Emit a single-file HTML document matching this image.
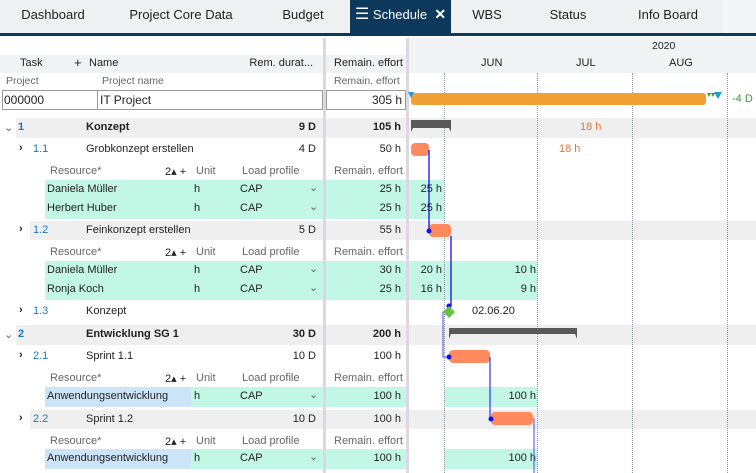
<!DOCTYPE html>
<html><head><meta charset="utf-8"><style>
*{margin:0;padding:0;box-sizing:border-box}
body{width:756px;height:473px;overflow:hidden;background:#fff;font-family:"Liberation Sans",sans-serif;font-size:11px;color:#222;position:relative}
.a{position:absolute;white-space:nowrap}
.r{text-align:right}
.g{color:#666}
.b{font-weight:bold}
.blue{color:#1a78c2}
.tab{position:absolute;top:0;height:34px;line-height:29px;font-size:13px;color:#222;text-align:center}
.bg{position:absolute}
</style></head><body>
<div class="bg" style="left:0;top:0;width:756px;height:34px;background:#eef0f2"></div>
<div class="bg" style="left:0;top:33px;width:756px;height:3px;background:#0d3a5c"></div>
<div class="bg" style="left:723px;top:0;width:33px;height:33px;background:#f4f5f6"></div>
<div class="tab" style="left:0;width:106px">Dashboard</div>
<div class="tab" style="left:106px;width:150px">Project Core Data</div>
<div class="tab" style="left:256px;width:94px">Budget</div>
<div class="bg" style="left:350px;top:0;width:101px;height:34px;background:#0d3a5c"></div>
<div class="tab" style="left:350px;width:101px;color:#fff"><span style="font-size:16px">☰</span> Schedule &nbsp;<b style="font-size:14px">✕</b></div>
<div class="tab" style="left:451px;width:72px">WBS</div>
<div class="tab" style="left:523px;width:90px">Status</div>
<div class="tab" style="left:613px;width:110px">Info Board</div>

<div class="bg" style="left:0;top:55px;width:323px;height:18px;background:#f1f2f4"></div>
<div class="bg" style="left:326px;top:55px;width:80px;height:18px;background:#f1f2f4"></div>
<div class="bg" style="left:409px;top:37px;width:347px;height:36px;background:#f2f3f5"></div>

<div class="bg" style="left:16px;top:118px;width:740px;height:20px;background:#efefef"></div>
<div class="bg" style="left:30px;top:221px;width:726px;height:19px;background:#efefef"></div>
<div class="bg" style="left:16px;top:325px;width:740px;height:20px;background:#efefef"></div>
<div class="bg" style="left:30px;top:410px;width:726px;height:19px;background:#efefef"></div>
<div class="bg" style="left:45px;top:180px;width:361px;height:39px;background:#c2f7e6"></div>
<div class="bg" style="left:409px;top:180px;width:35px;height:39px;background:#c2f7e6"></div>
<div class="bg" style="left:45px;top:261px;width:361px;height:39px;background:#c2f7e6"></div>
<div class="bg" style="left:409px;top:261px;width:128px;height:39px;background:#c2f7e6"></div>
<div class="bg" style="left:45px;top:387px;width:361px;height:20px;background:#c2f7e6"></div>
<div class="bg" style="left:45px;top:387px;width:146px;height:20px;background:#cce4f8"></div>
<div class="bg" style="left:445px;top:387px;width:92px;height:20px;background:#c2f7e6"></div>
<div class="bg" style="left:45px;top:449px;width:361px;height:20px;background:#c2f7e6"></div>
<div class="bg" style="left:45px;top:449px;width:146px;height:20px;background:#cce4f8"></div>
<div class="bg" style="left:445px;top:449px;width:92px;height:20px;background:#c2f7e6"></div>

<div class="bg" style="left:323px;top:38px;width:3px;height:435px;background:#ddd8e0"></div>
<div class="bg" style="left:406px;top:38px;width:3px;height:435px;background:#ddd8e0"></div>
<div class="bg" style="left:444px;top:73px;height:400px;border-left:1px dotted #8a95a8"></div>
<div class="bg" style="left:537px;top:73px;height:400px;border-left:1px dotted #8a95a8"></div>
<div class="bg" style="left:632px;top:73px;height:400px;border-left:1px dotted #8a95a8"></div>
<div class="bg" style="left:727px;top:73px;height:400px;border-left:1px dotted #8a95a8"></div>

<div class="a" style="left:20px;top:57px">Task</div>
<div class="a" style="left:74px;top:56px;font-size:13px;line-height:13px">+</div>
<div class="a" style="left:89px;top:57px">Name</div>
<div class="a r" style="left:220px;width:93px;top:57px">Rem. durat...</div>
<div class="a" style="left:334px;top:57px">Remain. effort</div>
<div class="a" style="left:652px;top:40px;font-size:10.5px">2020</div>
<div class="a" style="left:481px;top:57px">JUN</div>
<div class="a" style="left:576px;top:57px">JUL</div>
<div class="a" style="left:669px;top:57px">AUG</div>

<div class="a g" style="left:6px;top:75px;font-size:10.5px">Project</div>
<div class="a g" style="left:102px;top:75px;font-size:10.5px">Project name</div>
<div class="a g" style="left:334px;top:75px;font-size:10.5px">Remain. effort</div>
<div class="bg" style="left:2px;top:90px;width:96px;height:20px;border:1px solid #999"></div>
<div class="bg" style="left:97px;top:90px;width:226px;height:20px;border:1px solid #999"></div>
<div class="bg" style="left:326px;top:90px;width:80px;height:20px;border:1px solid #999"></div>
<div class="a" style="left:4px;top:93px;font-size:12px">000000</div>
<div class="a" style="left:100px;top:93px;font-size:12px">IT Project</div>
<div class="a r" style="left:330px;width:72px;top:93px;font-size:12px">305 h</div>

<div class="a g" style="left:4px;top:121px">⌄</div>
<div class="a blue b" style="left:18px;top:121px">1</div>
<div class="a b" style="left:86px;top:121px">Konzept</div>
<div class="a r b" style="left:250px;width:66px;top:121px">9 D</div>
<div class="a r b" style="left:330px;width:71px;top:121px">105 h</div>
<div class="a" style="left:19px;top:142px;font-weight:bold">›</div>
<div class="a blue" style="left:33px;top:143px">1.1</div>
<div class="a" style="left:86px;top:143px">Grobkonzept erstellen</div>
<div class="a r" style="left:250px;width:66px;top:143px">4 D</div>
<div class="a r" style="left:330px;width:71px;top:143px">50 h</div>
<div class="a g" style="left:50px;top:165px">Resource*</div><div class="a" style="left:165px;top:165px">2▴ +</div><div class="a g" style="left:196px;top:165px">Unit</div><div class="a g" style="left:242px;top:165px">Load profile</div><div class="a g" style="left:334px;top:165px">Remain. effort</div>
<div class="a" style="left:47px;top:183px">Daniela Müller</div><div class="a" style="left:194px;top:183px">h</div><div class="a" style="left:240px;top:183px">CAP</div><div class="a g" style="left:309px;top:181px">⌄</div><div class="a r" style="left:330px;width:71px;top:183px">25 h</div>
<div class="a" style="left:47px;top:202px">Herbert Huber</div><div class="a" style="left:194px;top:202px">h</div><div class="a" style="left:240px;top:202px">CAP</div><div class="a g" style="left:309px;top:200px">⌄</div><div class="a r" style="left:330px;width:71px;top:202px">25 h</div>
<div class="a r" style="left:410px;width:32px;top:183px">25 h</div>
<div class="a r" style="left:410px;width:32px;top:202px">25 h</div>
<div class="a" style="left:19px;top:223px;font-weight:bold">›</div>
<div class="a blue" style="left:33px;top:224px">1.2</div>
<div class="a" style="left:86px;top:224px">Feinkonzept erstellen</div>
<div class="a r" style="left:250px;width:66px;top:224px">5 D</div>
<div class="a r" style="left:330px;width:71px;top:224px">55 h</div>
<div class="a g" style="left:50px;top:246px">Resource*</div><div class="a" style="left:165px;top:246px">2▴ +</div><div class="a g" style="left:196px;top:246px">Unit</div><div class="a g" style="left:242px;top:246px">Load profile</div><div class="a g" style="left:334px;top:246px">Remain. effort</div>
<div class="a" style="left:47px;top:264px">Daniela Müller</div><div class="a" style="left:194px;top:264px">h</div><div class="a" style="left:240px;top:264px">CAP</div><div class="a g" style="left:309px;top:262px">⌄</div><div class="a r" style="left:330px;width:71px;top:264px">30 h</div>
<div class="a" style="left:47px;top:283px">Ronja Koch</div><div class="a" style="left:194px;top:283px">h</div><div class="a" style="left:240px;top:283px">CAP</div><div class="a g" style="left:309px;top:281px">⌄</div><div class="a r" style="left:330px;width:71px;top:283px">25 h</div>
<div class="a r" style="left:410px;width:32px;top:264px">20 h</div><div class="a r" style="left:490px;width:46px;top:264px">10 h</div>
<div class="a r" style="left:410px;width:32px;top:283px">16 h</div><div class="a r" style="left:490px;width:46px;top:283px">9 h</div>
<div class="a" style="left:19px;top:304px;font-weight:bold">›</div>
<div class="a blue" style="left:33px;top:305px">1.3</div>
<div class="a" style="left:86px;top:305px">Konzept</div>
<div class="a g" style="left:4px;top:328px">⌄</div>
<div class="a blue b" style="left:18px;top:328px">2</div>
<div class="a b" style="left:86px;top:328px">Entwicklung SG 1</div>
<div class="a r b" style="left:250px;width:66px;top:328px">30 D</div>
<div class="a r b" style="left:330px;width:71px;top:328px">200 h</div>
<div class="a" style="left:19px;top:349px;font-weight:bold">›</div>
<div class="a blue" style="left:33px;top:350px">2.1</div>
<div class="a" style="left:86px;top:350px">Sprint 1.1</div>
<div class="a r" style="left:250px;width:66px;top:350px">10 D</div>
<div class="a r" style="left:330px;width:71px;top:350px">100 h</div>
<div class="a g" style="left:50px;top:372px">Resource*</div><div class="a" style="left:165px;top:372px">2▴ +</div><div class="a g" style="left:196px;top:372px">Unit</div><div class="a g" style="left:242px;top:372px">Load profile</div><div class="a g" style="left:334px;top:372px">Remain. effort</div>
<div class="a" style="left:47px;top:390px">Anwendungsentwicklung</div><div class="a" style="left:194px;top:390px">h</div><div class="a" style="left:240px;top:390px">CAP</div><div class="a g" style="left:309px;top:388px">⌄</div><div class="a r" style="left:330px;width:71px;top:390px">100 h</div>
<div class="a r" style="left:480px;width:56px;top:390px">100 h</div>
<div class="a" style="left:19px;top:412px;font-weight:bold">›</div>
<div class="a blue" style="left:33px;top:413px">2.2</div>
<div class="a" style="left:86px;top:413px">Sprint 1.2</div>
<div class="a r" style="left:250px;width:66px;top:413px">10 D</div>
<div class="a r" style="left:330px;width:71px;top:413px">100 h</div>
<div class="a g" style="left:50px;top:435px">Resource*</div><div class="a" style="left:165px;top:435px">2▴ +</div><div class="a g" style="left:196px;top:435px">Unit</div><div class="a g" style="left:242px;top:435px">Load profile</div><div class="a g" style="left:334px;top:435px">Remain. effort</div>
<div class="a" style="left:47px;top:452px">Anwendungsentwicklung</div><div class="a" style="left:194px;top:452px">h</div><div class="a" style="left:240px;top:452px">CAP</div><div class="a g" style="left:309px;top:450px">⌄</div><div class="a r" style="left:330px;width:71px;top:452px">100 h</div>
<div class="a r" style="left:480px;width:56px;top:452px">100 h</div>

<svg class="a" style="left:0;top:0" width="756" height="473">
<rect x="411" y="93" width="295" height="12" rx="3" fill="#f0a035"/>
<polygon points="408,92 414,92 411,98" fill="#1e9ad6"/>
<polygon points="714,92 722,92 718,99" fill="#1e9ad6"/>
<polygon points="707,93 711,93 709,97" fill="#3a9a3a"/><polygon points="711,93 715,93 713,97" fill="#3a9a3a"/>
<path d="M411 120 H451 V132 L449 128 H413 L411 132 Z" fill="#595959"/>
<path d="M449 328 H577 V339 L575 334 H451 L449 339 Z" fill="#595959"/>
<rect x="411" y="143" width="18" height="13" rx="4" fill="#ff8a5e"/>
<rect x="429" y="224" width="22" height="13" rx="4" fill="#ff8a5e"/>
<rect x="449" y="350" width="41" height="13" rx="4" fill="#ff8a5e"/>
<rect x="491" y="412" width="42" height="13" rx="4" fill="#ff8a5e"/>
<path d="M429 150 V231" stroke="#1010ee" stroke-width="1.3" fill="none"/>
<circle cx="429" cy="231" r="2.5" fill="#1010ee"/>
<path d="M451 236 V306" stroke="#1010ee" stroke-width="1.3" fill="none"/>
<circle cx="449" cy="306" r="2.5" fill="#1010ee"/>
<path d="M446 312 H443 V357 H449" stroke="#7070f0" stroke-width="1.3" fill="none"/>
<circle cx="449" cy="357" r="2.5" fill="#1010ee"/>
<polygon points="449,306 455,312 449,318 443,312" fill="#6cc046"/>
<path d="M490 357 V419" stroke="#4040ee" stroke-width="1.3" fill="none"/>
<circle cx="491" cy="419" r="2.5" fill="#1010ee"/>
<path d="M533 419 H534 V473" stroke="#7070f0" stroke-width="1.3" fill="none"/>
</svg>
<div class="a" style="left:472px;top:305px">02.06.20</div>
<div class="a" style="left:580px;top:121px;color:#e8743b">18 h</div>
<div class="a" style="left:559px;top:143px;color:#e8743b">18 h</div>
<div class="a" style="left:732px;top:93px;color:#3a9a3a">-4 D</div>
</body></html>
